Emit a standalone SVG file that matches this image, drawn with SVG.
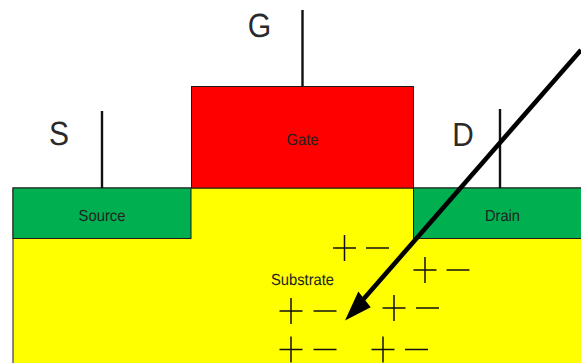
<svg xmlns="http://www.w3.org/2000/svg" width="581" height="363" viewBox="0 0 581 363">
<style>
.box{stroke:#1a1a1a;stroke-width:1}
text{font-family:"Liberation Sans",Arial,sans-serif;text-anchor:middle;text-rendering:geometricPrecision}
.lab{font-size:16px;fill:#222}
.big{font-size:33.500px;fill:#2a2a2a}
.wire{stroke:#111;stroke-width:2.400;fill:none}
.sign{stroke:#111;stroke-width:1.500;fill:none}
</style>
<defs>
<g id="plus"><path class="sign" d="M-11.500 0H11.500M0 -13V13"/></g>
<g id="minus"><path class="sign" d="M-11.500 0H11.500"/></g>
</defs>
<rect width="581" height="363" fill="#fff"/>
<g id="substrate"><rect class="box" x="13" y="188" width="580" height="190" fill="#ffff00"/><text class="lab" x="302.500" y="285" textLength="63" lengthAdjust="spacingAndGlyphs">Substrate</text></g>
<g id="source"><rect class="box" x="13" y="188" width="178" height="50.500" fill="#00b050"/><text class="lab" x="102" y="221" textLength="47" lengthAdjust="spacingAndGlyphs">Source</text></g>
<g id="drain"><rect class="box" x="413.500" y="188" width="180" height="50.500" fill="#00b050"/><text class="lab" x="502.500" y="221" textLength="35" lengthAdjust="spacingAndGlyphs">Drain</text></g>
<g id="gate"><rect class="box" x="191.500" y="86.500" width="222" height="101.500" fill="#ff0000"/><text class="lab" x="302.500" y="145" textLength="32" lengthAdjust="spacingAndGlyphs">Gate</text></g>
<g id="label-g"><text class="big" x="259.500" y="37" textLength="23.500" lengthAdjust="spacingAndGlyphs">G</text></g>
<g id="label-s"><text class="big" x="59" y="144.500" textLength="20" lengthAdjust="spacingAndGlyphs">S</text></g>
<g id="label-d"><text class="big" x="463" y="146" textLength="21.500" lengthAdjust="spacingAndGlyphs">D</text></g>
<g id="charges">
<use href="#plus" x="344.500" y="248"/><use href="#minus" x="377.500" y="248"/>
<use href="#plus" x="425" y="270"/><use href="#minus" x="458" y="270"/>
<use href="#plus" x="291" y="311"/><use href="#minus" x="325" y="311"/>
<use href="#plus" x="394" y="308"/><use href="#minus" x="427.500" y="308"/>
<use href="#plus" x="291" y="349.500"/><use href="#minus" x="325" y="349.500"/>
<use href="#plus" x="383" y="349.500"/><use href="#minus" x="416.500" y="349.500"/>
</g>
<g id="connectors">
<path class="wire" d="M102 111V188M302.500 10V87M500 109V188"/>
<path d="M581 50L361 302" stroke="#000" stroke-width="4.600" fill="none"/>
<path d="M345 320.500L358.300 291.500L370.700 307.300Z" fill="#000"/>
</g>
</svg>
